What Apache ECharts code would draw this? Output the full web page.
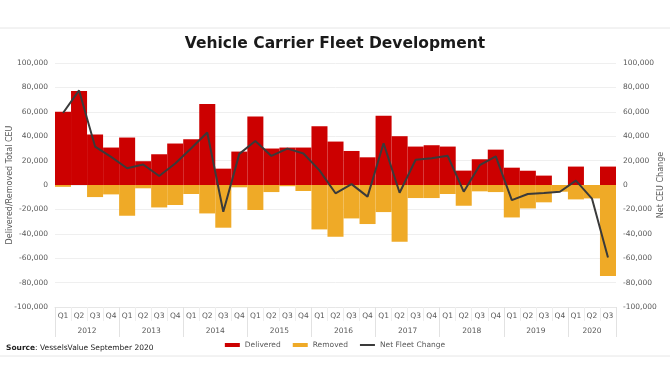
<!DOCTYPE html>
<html>
<head>
<meta charset="utf-8">
<script src="https://cdn.jsdelivr.net/npm/echarts@6/dist/echarts.min.js"></script>
<style>html,body{margin:0;padding:0;background:#fff}#c{width:670px;height:380px}</style>
</head>
<body>
<div id="c"></div>
<script>
const years = ['2012','2013','2014','2015','2016','2017','2018','2019','2020'];
const quartersPerYear = [4,4,4,4,4,4,4,4,3];
const quarterNames = ['Q1','Q2','Q3','Q4'];
const yTicks = [-100000,-80000,-60000,-40000,-20000,0,20000,40000,60000,80000,100000];

const delivered = [60000, 77000, 41400, 30700, 38900, 19500, 25200, 34000, 37500, 66300, 13400, 27400,
  56200, 29900, 30700, 30700, 48200, 35600, 27900, 22700, 56700, 40000, 31500, 32600,
  31500, 11800, 21100, 29000, 14200, 11700, 7700, 0, 15100, 0, 15100];
const removed = [-1500, 0, -9900, -7700, -25200, -2700, -18400, -16400, -7400, -23300, -35000, -1900,
  -20500, -5800, -1000, -4900, -36400, -42500, -27400, -32000, -22200, -46600, -10700, -10700,
  -7400, -17000, -5200, -5800, -26600, -19200, -14200, -5500, -11800, -11000, -74500];
const netChange = [59000, 77500, 31500, 23000, 13700, 16800, 7400, 17600, 30100, 43000, -21900, 25500,
  36000, 23800, 29800, 25800, 12000, -6800, 700, -9500, 34200, -6400, 20700, 21900,
  23900, -5500, 16200, 23500, -12400, -7400, -6600, -5500, 3600, -11100, -59500];

const categories = [];
years.forEach((y, i) => { for (let q = 0; q < quartersPerYear[i]; q++) categories.push(y + '-' + quarterNames[q]); });
const yearBounds = [0];
const yearCenters = [];
quartersPerYear.forEach(n => { const s = yearBounds[yearBounds.length - 1]; yearCenters.push(s + n / 2); yearBounds.push(s + n); });

const FONT = 'DejaVu Sans';
const LBL = '#595959';
const fmt = v => v.toLocaleString('en-US');

const chart = echarts.init(document.getElementById('c'), null, {renderer: 'canvas'});
chart.setOption({
  animation: false,
  backgroundColor: '#fff',
  title: {
    text: 'Vehicle Carrier Fleet Development',
    left: 'center', top: 36, padding: 0,
    textStyle: {fontFamily: FONT, fontWeight: 'bold', fontSize: 15.5, color: '#1a1a1a'}
  },
  legend: {
    top: 341, left: 'center', padding: 0, itemGap: 12, itemWidth: 15, itemHeight: 4,
    textStyle: {fontFamily: FONT, fontSize: 7.5, color: LBL},
    data: [
      {name: 'Delivered', icon: 'rect'},
      {name: 'Removed', icon: 'rect'},
      {name: 'Net Fleet Change', icon: 'path://M0,0 L30,0 L30,4 L0,4 Z', itemStyle: {color: '#3a3a3a'}}
    ]
  },
  grid: {left: 55, right: 54, top: 63, bottom: 73, outerBoundsMode: 'none', containLabel: false},
  xAxis: [
    {
      type: 'category', data: categories, position: 'bottom',
      axisLine: {onZero: false, lineStyle: {color: '#e6e6e6'}},
      axisTick: {show: true, length: 14, lineStyle: {color: '#eeeeee'}},
      axisLabel: {margin: 5, fontFamily: FONT, fontSize: 7.5, color: LBL, interval: 0,
        formatter: v => v.split('-')[1]}
    },
    {
      type: 'value', min: 0, max: categories.length, position: 'bottom',
      axisLine: {show: false, onZero: false},
      splitLine: {show: false},
      axisTick: {show: true, length: 30, customValues: yearBounds, lineStyle: {color: '#e2e2e2'}},
      axisLabel: {margin: 20, fontFamily: FONT, fontSize: 7.5, color: LBL, customValues: yearCenters,
        formatter: v => { const i = yearCenters.indexOf(v); return i >= 0 ? years[i] : ''; }}
    }
  ],
  yAxis: [
    {
      type: 'value', min: yTicks[0], max: yTicks[yTicks.length - 1], interval: 20000, position: 'left',
      name: 'Delivered/Removed Total CEU', nameLocation: 'middle', nameGap: 41, nameRotate: 90,
      nameMoveOverlap: false,
      nameTextStyle: {fontFamily: FONT, fontSize: 8, color: LBL},
      axisLine: {show: false}, axisTick: {show: false},
      axisLabel: {margin: 7, fontFamily: FONT, fontSize: 7.5, color: LBL, formatter: fmt},
      splitLine: {lineStyle: {color: '#efefef'}}
    },
    {
      type: 'value', min: yTicks[0], max: yTicks[yTicks.length - 1], interval: 20000, position: 'right',
      name: 'Net CEU Change', nameLocation: 'middle', nameGap: 41, nameRotate: 90,
      nameMoveOverlap: false,
      nameTextStyle: {fontFamily: FONT, fontSize: 8, color: LBL},
      axisLine: {show: false}, axisTick: {show: false},
      axisLabel: {margin: 7, fontFamily: FONT, fontSize: 7.5, color: LBL, formatter: fmt},
      splitLine: {show: false}
    }
  ],
  graphic: [
    {type: 'line', shape: {x1: 0, y1: 28, x2: 670, y2: 28}, style: {stroke: '#e6e6e6', lineWidth: 1}, silent: true},
    {type: 'line', shape: {x1: 0, y1: 356, x2: 670, y2: 356}, style: {stroke: '#e6e6e6', lineWidth: 1}, silent: true},
    {type: 'text', left: 6, top: 344, silent: true,
      style: {text: '{b|Source}: VesselsValue September 2020', fontFamily: FONT, fontSize: 7.5, fill: '#222',
        rich: {b: {fontFamily: FONT, fontSize: 7.5, fontWeight: 'bold', fill: '#222'}}}}
  ],
  series: [
    {name: 'Delivered', type: 'bar', stack: 'ceu', xAxisIndex: 0, yAxisIndex: 0, data: delivered,
      barCategoryGap: '0%', itemStyle: {color: '#cc0000'}},
    {name: 'Removed', type: 'bar', stack: 'ceu', xAxisIndex: 0, yAxisIndex: 0, data: removed,
      barCategoryGap: '0%', itemStyle: {color: '#efaa27'}},
    {name: 'Net Fleet Change', type: 'line', xAxisIndex: 0, yAxisIndex: 1, data: netChange,
      symbol: 'none', lineStyle: {color: '#3a3a3a', width: 2}, itemStyle: {color: '#3a3a3a'}}
  ]
});
</script>
</body>
</html>
